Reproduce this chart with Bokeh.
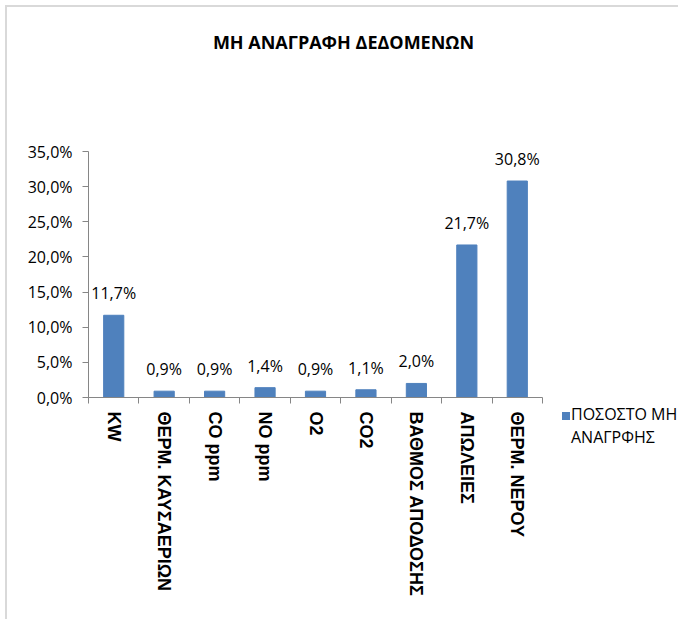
from bokeh.plotting import figure
from bokeh.layouts import column, row
from bokeh.models import (Range1d, FixedTicker, CustomJSTickFormatter,
                          ColumnDataSource, Label, Div)
from bokeh.core.properties import value
from bokeh.embed import file_html
from bokeh.resources import INLINE

# ---- data ----
categories = ["KW", "ΘΕΡΜ. ΚΑΥΣΑΕΡΙΩΝ", "CO ppm", "NO ppm", "O2", "CO2",
              "ΒΑΘΜΟΣ ΑΠΟΔΟΣΗΣ", "ΑΠΩΛΕΙΕΣ", "ΘΕΡΜ. ΝΕΡΟΥ"]
values = [11.7, 0.9, 0.9, 1.4, 0.9, 1.1, 2.0, 21.7, 30.8]
y_ticks = [0, 5, 10, 15, 20, 25, 30, 35]
series_name = "ΠΟΣΟΣΤΟ ΜΗ ΑΝΑΓΡΦΗΣ"
title_text = "ΜΗ ΑΝΑΓΡΑΦΗ ΔΕΔΟΜΕΝΩΝ"

BAR = "#4F81BD"
AXIS = "#868686"
FONT = "Open Sans"

n = len(categories)
centers = [i + 0.5 for i in range(n)]
bounds = list(range(n + 1))
labels = [f"{v:.1f}%".replace(".", ",") for v in values]

src = ColumnDataSource(dict(x=centers, top=values, lbl=labels, cat=categories))


def bare(fig):
    fig.outline_line_color = None
    fig.background_fill_color = "white"
    fig.border_fill_color = "white"
    return fig


# ---- title strip ----
TW, TH = 671, 124
tf = bare(figure(width=TW, height=TH, output_backend="svg", toolbar_location=None,
                 x_range=Range1d(0, TW), y_range=Range1d(0, TH),
                 x_axis_type=None, y_axis_type=None,
                 min_border=0, min_border_left=0, min_border_right=0,
                 min_border_top=0, min_border_bottom=0))
tf.grid.visible = False
tf.add_layout(Label(x=336, y=90, text=title_text, text_align="center",
                    text_baseline="middle", text_font=FONT, text_font_style="bold",
                    text_font_size="18px", text_color="#000000"))

# ---- main chart ----
p = bare(figure(width=539, height=488, output_backend="svg", toolbar_location=None,
                x_range=Range1d(0, n), y_range=Range1d(0, y_ticks[-1]),
                min_border_left=81, min_border_right=4, min_border_top=20,
                min_border_bottom=222))
p.xgrid.visible = False
p.ygrid.visible = False

bars = p.vbar(x="x", top="top", width=0.4, bottom=0, source=src,
              fill_color=BAR, line_color=BAR)

p.text(x="x", y="top", text="lbl", source=src, text_align="center",
       text_baseline="middle", y_offset=-22,
       text_font=value(FONT), text_font_size="16px", text_color="#000000")

ya = p.yaxis[0]
ya.ticker = FixedTicker(ticks=y_ticks)
ya.formatter = CustomJSTickFormatter(code="return tick.toFixed(1).replace('.', ',') + '%';")
ya.axis_line_color = AXIS
ya.major_tick_line_color = AXIS
ya.major_tick_out = 6
ya.major_tick_in = 0
ya.minor_tick_line_color = None
ya.major_label_standoff = 10
ya.major_label_text_font = FONT
ya.major_label_text_font_size = "16px"
ya.major_label_text_color = "#000000"

xa = p.xaxis[0]
xa.ticker = FixedTicker(ticks=centers, minor_ticks=bounds)
xa.formatter = CustomJSTickFormatter(args=dict(cats=categories),
                                     code="return cats[Math.round(tick - 0.5)];")
xa.axis_line_color = AXIS
xa.major_tick_line_color = None
xa.major_tick_out = 0
xa.major_tick_in = 0
xa.minor_tick_line_color = AXIS
xa.minor_tick_out = 6
xa.minor_tick_in = 0
xa.major_label_orientation = "vertical"
xa.major_label_standoff = 8
xa.major_label_text_font = "Liberation Sans"
xa.major_label_text_font_style = "bold"
xa.major_label_text_font_size = "18px"
xa.major_label_text_color = "#000000"

# ---- legend panel ----
first, second = series_name.rsplit(" ", 1)
legend_html = (
    '<div style="position:relative;width:132px;height:488px;">'
    f'<div style="position:absolute;left:16px;top:281px;width:8px;height:8px;'
    f'background:{BAR};"></div>'
    f'<div style="position:absolute;left:25px;top:272px;white-space:nowrap;'
    f'font-family:\'{FONT}\';font-size:16px;line-height:23px;color:#000;">'
    f'{first}<br>{second}</div>'
    '</div>'
)
lg = Div(text=legend_html, width=132, height=488, margin=(0, 0, 0, 0))

layout = column(tf, row(p, lg), margin=(5, 0, 0, 5),
                styles={"border-top": "2px solid #D9D9D9",
                        "border-left": "2px solid #D9D9D9"})

open("out.html", "w").write(file_html(layout, INLINE))
